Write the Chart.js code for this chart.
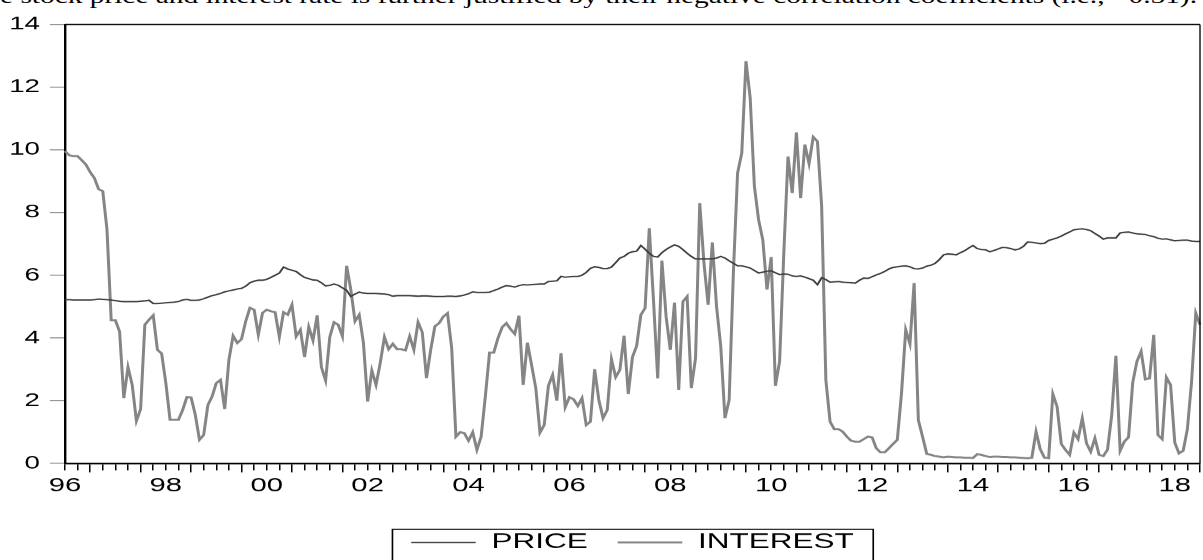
<!DOCTYPE html>
<html><head><meta charset="utf-8">
<script src="https://cdn.jsdelivr.net/npm/chart.js@4.4.1/dist/chart.umd.min.js"></script>
<style>
html,body{margin:0;padding:0;background:#fff;overflow:hidden;width:1203px;height:560px;}
#capText{position:absolute;left:0;top:-14.9px;white-space:nowrap;font-family:"Liberation Serif","Times New Roman",serif;font-size:22px;line-height:22px;color:#000;transform-origin:0 0;}
#stretch{position:absolute;left:0;top:0;width:802px;height:560px;transform:scaleX(1.5);transform-origin:0 0;}
#box{position:relative;width:802px;height:560px;}
</style></head>
<body>
<div id="capText">e stock price and interest rate is further justified by their negative correlation coefficients (i.e., −0.51).</div>
<div id="stretch"><div id="box"><canvas id="c"></canvas></div></div>
<script>
// ---- data ----
const startYear = 1996, startMonth = 7, nObs = 271;
const price = [
5.22,5.22,5.21,5.21,5.21,5.21,5.21,5.22,5.24,5.23,5.22,
5.21,5.19,5.17,5.16,5.16,5.16,5.16,5.17,5.18,5.20,
5.10,5.10,5.11,5.12,5.13,5.14,5.16,5.21,5.23,5.20,
5.20,5.21,5.25,5.30,5.35,5.38,5.42,5.47,5.50,5.53,
5.56,5.58,5.65,5.76,5.81,5.84,5.84,5.87,5.93,6.00,
6.07,6.26,6.20,6.16,6.12,6.02,5.93,5.89,5.85,5.84,
5.76,5.66,5.68,5.72,5.68,5.60,5.52,5.32,5.40,5.46,
5.43,5.42,5.42,5.42,5.41,5.40,5.38,5.33,5.35,5.35,
5.35,5.35,5.34,5.33,5.34,5.34,5.33,5.32,
5.32,5.32,5.33,5.33,5.32,5.34,5.37,5.41,5.47,5.45,5.45,
5.45,5.46,5.51,5.56,5.62,5.67,5.65,5.62,5.67,5.70,
5.69,5.70,5.71,5.72,5.72,5.80,5.81,5.82,5.96,5.94,
5.95,5.96,5.96,6.00,6.09,6.22,6.27,6.25,6.21,6.21,
6.26,6.40,6.55,6.60,6.70,6.75,6.77,6.95,6.83,6.70,
6.60,6.58,6.72,6.82,6.90,6.97,6.92,6.82,6.70,6.60,
6.52,6.52,6.52,6.52,6.52,6.55,6.60,6.55,6.46,6.38,
6.30,6.30,6.27,6.23,6.15,6.07,6.10,6.13,6.14,6.08,
6.02,6.04,6.03,5.98,5.96,5.98,5.94,5.89,5.84,5.70,
5.92,5.86,5.78,5.79,5.80,5.78,5.77,5.76,5.75,5.84,
5.91,5.90,5.95,6.01,6.06,6.12,6.20,6.25,6.27,6.29,
6.30,6.27,6.21,6.20,6.23,6.29,6.32,6.38,6.50,6.65,
6.68,6.67,6.65,6.72,6.78,6.87,6.95,6.85,6.82,6.81,
6.75,6.79,6.84,6.89,6.88,6.85,6.81,6.84,6.92,7.06,
7.05,7.03,7.01,7.02,7.11,7.15,7.19,7.25,7.32,7.38,
7.45,7.47,7.48,7.46,7.42,7.33,7.25,7.15,7.19,7.19,
7.19,7.35,7.37,7.38,7.35,7.32,7.31,7.30,7.26,7.23,
7.18,7.15,7.16,7.13,7.10,7.11,7.12,7.12,7.09,7.08,7.08
];
const interest = [
9.96,9.83,9.80,9.80,9.67,9.53,9.29,9.10,8.75,8.68,
7.46,4.56,4.56,4.20,2.08,3.07,2.50,1.35,1.73,4.42,
4.58,4.72,3.62,3.50,2.56,1.39,1.39,1.39,1.70,2.11,
2.10,1.55,0.75,0.90,1.86,2.13,2.56,2.66,1.73,3.30,
4.07,3.84,3.96,4.53,4.96,4.90,4.10,4.80,4.90,4.85,
4.82,4.03,4.82,4.74,5.06,4.05,4.26,3.39,4.35,3.92,
4.72,3.07,2.64,4.03,4.50,4.42,4.05,6.30,5.54,4.53,
4.74,3.84,1.97,2.96,2.50,3.20,4.03,3.64,3.81,3.64,
3.64,3.60,4.05,3.62,4.50,4.18,2.72,3.62,4.37,
4.47,4.68,4.79,3.67,0.85,0.99,0.96,0.72,0.99,0.43,0.85,
2.13,3.53,3.53,3.99,4.34,4.47,4.28,4.13,4.71,2.50,
3.85,3.14,2.40,0.98,1.22,2.47,2.82,2.00,3.51,1.79,
2.11,2.04,1.83,2.08,1.22,1.33,3.00,2.02,1.44,1.70,
3.32,2.75,2.98,4.07,2.21,3.39,3.75,4.74,4.95,7.50,
5.20,2.71,6.47,4.68,3.62,5.13,2.34,5.16,5.32,2.40,
3.35,8.30,6.39,5.06,7.05,5.00,3.73,1.44,2.02,6.07,
9.26,9.90,12.83,11.66,8.84,7.77,7.13,5.54,6.58,2.47,
3.25,6.71,9.79,8.62,10.56,8.46,10.17,9.56,10.41,10.27,
8.20,2.66,1.33,1.09,1.09,1.01,0.85,0.72,0.69,0.69,
0.77,0.85,0.83,0.48,0.35,0.35,0.48,0.62,0.75,2.24,
4.26,3.81,5.75,1.38,0.85,0.30,0.27,0.23,0.21,0.19,
0.21,0.20,0.19,0.19,0.18,0.18,0.17,0.29,0.27,0.23,
0.20,0.21,0.21,0.20,0.20,0.19,0.19,0.18,0.17,0.16,
0.18,1.01,0.45,0.18,0.16,2.21,1.81,0.62,0.43,0.27,
0.98,0.77,1.44,0.64,0.37,0.80,0.27,0.23,0.43,1.54,
3.43,0.40,0.69,0.83,2.58,3.25,3.57,2.68,2.71,4.10,
0.90,0.77,2.74,2.50,0.66,0.32,0.40,1.09,2.61,4.79,4.42
];
const yTicks = [0, 2, 4, 6, 8, 10, 12, 14];
const xTickCats = ['1996M07','1998M07','2000M07','2002M07','2004M07','2006M07','2008M07','2010M07','2012M07','2014M07','2016M07','2018M07'];
const xTickLabels = ['96','98','00','02','04','06','08','10','12','14','16','18'];

// monthly category labels
const months = [];
for (let i = 0; i < nObs; i++) {
  const m0 = startMonth - 1 + i;
  const yr = startYear + Math.floor(m0 / 12);
  const mo = (m0 % 12) + 1;
  months.push(yr + 'M' + String(mo).padStart(2, '0'));
}
const monthOf = i => ((startMonth - 1 + i) % 12) + 1;

const FONT = 'Liberation Sans';

// fit caption width
(function(){
  const el = document.getElementById('capText');
  const w = el.getBoundingClientRect().width;
  el.style.transform = 'scaleX(' + (1197 / w) + ')';
})();

const legendShift = {
  id: 'legendShift',
  afterLayout(chart) {
    const lg = chart.legend, ca = chart.chartArea;
    if (!lg) return;
    lg.left = ca.left; lg.right = ca.right; lg.width = ca.right - ca.left;
  }
};
const frame = {
  id: 'frame',
  afterDraw(chart) {
    const {ctx, chartArea: ca} = chart;
    ctx.save();
    ctx.strokeStyle = '#000';
    ctx.lineWidth = 1.3;
    ctx.beginPath(); ctx.moveTo(ca.left, ca.top); ctx.lineTo(ca.right, ca.top); ctx.stroke();
    ctx.lineWidth = 0.9;
    ctx.beginPath(); ctx.moveTo(ca.right, ca.top); ctx.lineTo(ca.right, ca.bottom); ctx.stroke();
    // legend frame
    const lg = chart.legend;
    const p = lg.options.labels.padding;
    const lw = lg.lineWidths[0];
    const sx = (lg.left + p + lg.right - lw) / 2;
    const ex = sx + lw - p;
    const cy = lg.top + p + 10.5;
    ctx.lineWidth = 1.1;
    ctx.strokeStyle = '#000';
    ctx.strokeRect(sx - 12.5, cy - 13.2, (ex + 13) - (sx - 12.5), 60);
    ctx.restore();
  }
};

new Chart(document.getElementById('c'), {
  type: 'line',
  data: {
    labels: months,
    datasets: [
      {label: 'PRICE', data: price, borderColor: '#3c3c3c', backgroundColor: '#3c3c3c', borderWidth: 1.4, pointRadius: 0, tension: 0, fill: false},
      {label: 'INTEREST', data: interest, borderColor: '#858585', backgroundColor: '#858585', borderWidth: 2, pointRadius: 0, tension: 0, fill: false}
    ]
  },
  options: {
    responsive: true,
    maintainAspectRatio: false,
    devicePixelRatio: 1.5,
    animation: false,
    events: [],
    layout: {padding: {top: 24.5, right: 1.3, left: 0, bottom: -3}},
    plugins: {
      tooltip: {enabled: false},
      title: {display: false},
      legend: {
        position: 'bottom',
        labels: {
          usePointStyle: true, pointStyle: 'line', pointStyleWidth: 43,
          font: {family: FONT, size: 21}, color: '#000', padding: 20
        }
      }
    },
    scales: {
      x: {
        type: 'category', offset: false,
        afterFit: s => { s.height = 48.7; },
        grid: {
          display: true, drawOnChartArea: false, drawTicks: true, tickLength: 9, tickWidth: 1,
          offset: false,
          tickColor: c => { const m = monthOf(c.index); return ((m - 1) % 3 === 0) ? '#000' : 'rgba(0,0,0,0)'; },
          tickBorderDash: c => (monthOf(c.index) === 1 ? [] : [6, 60])
        },
        border: {display: true, color: '#000', width: 1.7},
        ticks: {
          autoSkip: false, maxRotation: 0, minRotation: 0, padding: 2, color: '#000',
          font: {family: FONT, size: 19.5},
          callback: function(v) { const k = xTickCats.indexOf(this.getLabelForValue(v)); return k >= 0 ? xTickLabels[k] : ''; }
        }
      },
      y: {
        min: 0, max: 14,
        afterBuildTicks: s => { s.ticks = yTicks.map(v => ({value: v})); },
        afterFit: s => { s.width = 43.3; },
        grid: {drawOnChartArea: false, drawTicks: true, tickLength: 10, tickColor: '#888', tickWidth: 1},
        border: {display: true, color: '#000', width: 1.6},
        ticks: {padding: 6.6, color: '#000', font: {family: FONT, size: 18.5}}
      }
    }
  },
  plugins: [legendShift, frame]
});
</script>
</body></html>
